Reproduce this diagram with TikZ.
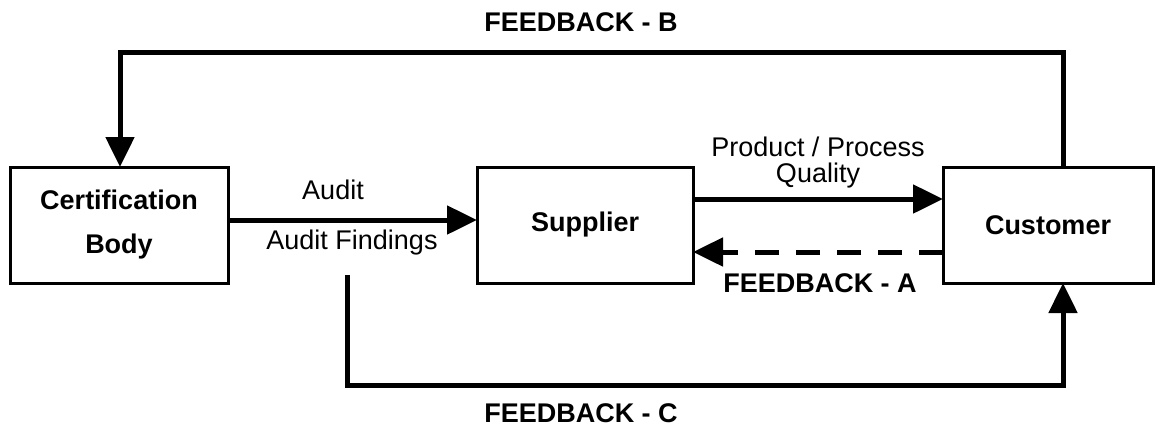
\documentclass[tikz,border=0pt]{standalone}
\usepackage{fontspec}
\setmainfont{Liberation Sans}
\usetikzlibrary{arrows.meta}

\begin{document}
\begin{tikzpicture}[x=0.5pt,y=-0.5pt,
  every node/.style={font=\fontsize{13.5}{16}\selectfont, inner sep=0pt, outer sep=0pt},
  box/.style={draw, line width=1.5pt, minimum height=58pt, font=\fontsize{13.5}{22}\selectfont\bfseries, align=center},
  flow/.style={line width=2.5pt, -{Triangle[length=15pt,width=14pt]}},
  fb/.style={font=\fontsize{13.5}{16}\selectfont\bfseries}]
\useasboundingbox (0,0) rectangle (1155,430);

\node[box, minimum width=109pt] (cert) at (119,225) {Certification\\Body};
\node[box, minimum width=108pt] (supp) at (585,225) {Supplier};
\node[box, minimum width=105pt] (cust) at (1048,225) {Customer};

\coordinate (auditY) at (0,220);
\coordinate (prodY) at (0,199);
\coordinate (fbaY) at (0,252);
\coordinate (fbbX) at (1063,52);
\coordinate (fbbL) at (120,52);
\coordinate (fbcTop) at (347,275);
\coordinate (fbcBot) at (347,385);

\draw[flow] (cert.east |- auditY) -- (supp.west |- auditY);
\draw[flow] (supp.east |- prodY) -- (cust.west |- prodY);
\draw[flow, dash pattern=on 12pt off 8.5pt] (cust.west |- fbaY) -- (supp.east |- fbaY);
\draw[flow] (cust.north -| fbbX) -- (fbbX) -- (fbbL) -- (cert.north -| fbbL);
\draw[flow] (fbcTop) -- (fbcBot) -- (fbcBot -| fbbX) -- (cust.south -| fbbX);

\node (audit) at (333,190) {Audit};
\node (findings) at (352,243) {Audit Findings};
\node (prod) at (818,147) {Product / Process};
\node (qual) at (818,176) {Quality};
\node[fb] (fba) at (820,283) {FEEDBACK - A};
\node[fb] (fbb) at (581,22) {FEEDBACK - B};
\node[fb] (fbc) at (581,413) {FEEDBACK - C};
\end{tikzpicture}
\end{document}
